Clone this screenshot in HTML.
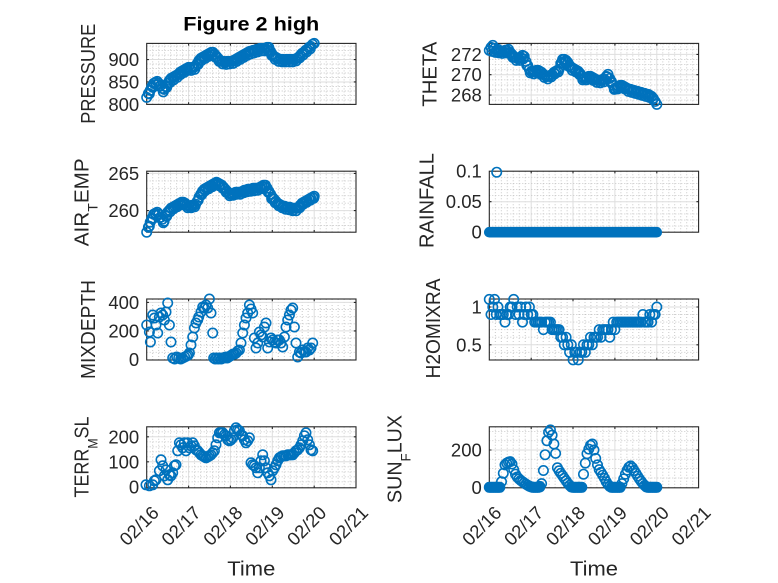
<!DOCTYPE html>
<html><head><meta charset="utf-8">
<style>
body{margin:0;background:#fff}
svg{display:block}
svg text{font-family:"Liberation Sans",sans-serif;fill:#262626}
.t{font-size:18.5px;text-anchor:end}
.xt{font-size:18.5px;text-anchor:end}
.yl{font-size:20.5px;text-anchor:middle}
.g{stroke:#dedede;stroke-width:1;fill:none}
.m{stroke:#c4c4c4;stroke-width:0.9;stroke-dasharray:1 2;fill:none}
.b{fill:none;stroke:#262626;stroke-width:1.1}
.s{fill:none;stroke:none;marker-start:url(#o);marker-mid:url(#o);marker-end:url(#o)}
.z{stroke:#0072BD;stroke-width:10.6;stroke-linecap:round;fill:none}
</style></head>
<body>
<svg width="778" height="583" viewBox="0 0 778 583" xmlns="http://www.w3.org/2000/svg">
<defs>
<marker id="o" markerUnits="userSpaceOnUse" markerWidth="14" markerHeight="14" viewBox="-7 -7 14 14" refX="0" refY="0" overflow="visible"><circle r="4.7" fill="none" stroke="#0072BD" stroke-width="1.6"/></marker>
<path id="vgL" d="M188.6 0v61M230.4 0v61M272.3 0v61M314.2 0v61"/>
<path id="vgR" d="M531.2 0v61M573 0v61M614.9 0v61M656.8 0v61"/>
<path id="vmL" d="M152.7 0v61M158.7 0v61M164.6 0v61M170.6 0v61M176.6 0v61M182.6 0v61M194.6 0v61M200.6 0v61M206.5 0v61M212.5 0v61M218.5 0v61M224.5 0v61M236.4 0v61M242.4 0v61M248.3 0v61M254.3 0v61M260.3 0v61M266.3 0v61M278.3 0v61M284.3 0v61M290.2 0v61M296.2 0v61M302.2 0v61M308.1 0v61M320.2 0v61M326.2 0v61M332.1 0v61M338.1 0v61M344.1 0v61M350.1 0v61"/>
<path id="vmR" d="M495.3 0v61M501.3 0v61M507.2 0v61M513.2 0v61M519.2 0v61M525.2 0v61M537.2 0v61M543.2 0v61M549.1 0v61M555.1 0v61M561.1 0v61M567.1 0v61M579 0v61M585 0v61M590.9 0v61M596.9 0v61M602.9 0v61M608.9 0v61M620.9 0v61M626.9 0v61M632.8 0v61M638.8 0v61M644.8 0v61M650.7 0v61M662.8 0v61M668.8 0v61M674.7 0v61M680.7 0v61M686.7 0v61M692.7 0v61"/>
<path id="xtL" d="M188.6 0v2.2M230.4 0v2.2M272.3 0v2.2M314.2 0v2.2M188.6 61v-2.2M230.4 61v-2.2M272.3 61v-2.2M314.2 61v-2.2"/>
<path id="xtR" d="M531.2 0v2.2M573 0v2.2M614.9 0v2.2M656.8 0v2.2M531.2 61v-2.2M573 61v-2.2M614.9 61v-2.2M656.8 61v-2.2"/>
</defs>

<g class="m">
<use href="#vmL" y="43.4"/><use href="#vmL" y="171.2"/><use href="#vmL" y="299"/><use href="#vmL" y="426.8"/>
<use href="#vmR" y="43.4"/><use href="#vmR" y="171.2"/><use href="#vmR" y="299"/><use href="#vmR" y="426.8"/>
</g>
<g class="g">
<use href="#vgL" y="43.4"/><use href="#vgL" y="171.2"/><use href="#vgL" y="299"/><use href="#vgL" y="426.8"/>
<use href="#vgR" y="43.4"/><use href="#vgR" y="171.2"/><use href="#vgR" y="299"/><use href="#vgR" y="426.8"/>
</g>

<path class="m" d="M146.7 46.1H356M146.7 50.6H356M146.7 55.1H356M146.7 64H356M146.7 68.5H356M146.7 73H356M146.7 77.5H356M146.7 86.5H356M146.7 91H356M146.7 95.4H356M146.7 99.9H356
M489.3 44.2H698.6M489.3 49.3H698.6M489.3 59.5H698.6M489.3 64.6H698.6M489.3 69.7H698.6M489.3 79.8H698.6M489.3 84.9H698.6M489.3 90H698.6M489.3 100.1H698.6
M146.7 180.9H356M146.7 188.3H356M146.7 195.7H356M146.7 203.2H356M146.7 218H356M146.7 225.5H356
M489.3 177.3H698.6M489.3 183.4H698.6M489.3 189.5H698.6M489.3 195.6H698.6M489.3 207.8H698.6M489.3 213.9H698.6M489.3 220H698.6M489.3 226.1H698.6
M146.7 309.5H356M146.7 316.7H356M146.7 323.8H356M146.7 338H356M146.7 345.2H356M146.7 352.3H356
M489.3 314.5H698.6M489.3 322.1H698.6M489.3 329.7H698.6M489.3 337.2H698.6M489.3 352.3H698.6
M146.7 431.8H356M146.7 441.8H356M146.7 446.8H356M146.7 451.8H356M146.7 456.8H356M146.7 466.8H356M146.7 471.8H356M146.7 476.8H356M146.7 481.8H356
M489.3 431.4H698.6M489.3 440.7H698.6M489.3 459.3H698.6M489.3 468.6H698.6M489.3 478H698.6"/>
<path class="g" d="M146.7 59.55H356M146.7 81.97H356
M489.3 54.4H698.6M489.3 74.7H698.6M489.3 95.05H698.6
M146.7 173.4H356M146.7 210.6H356
M489.3 201.7H698.6
M146.7 302.4H356M146.7 330.9H356
M489.3 307H698.6M489.3 344.8H698.6
M146.7 436.8H356M146.7 461.8H356
M489.3 450H698.6"/>

<g class="b">
<rect x="146.7" y="43.4" width="209.3" height="61"/><rect x="489.3" y="43.4" width="209.3" height="61"/>
<rect x="146.7" y="171.2" width="209.3" height="61"/><rect x="489.3" y="171.2" width="209.3" height="61"/>
<rect x="146.7" y="299" width="209.3" height="61"/><rect x="489.3" y="299" width="209.3" height="61"/>
<rect x="146.7" y="426.8" width="209.3" height="61"/><rect x="489.3" y="426.8" width="209.3" height="61"/>
<use href="#xtL" y="43.4"/><use href="#xtL" y="171.2"/><use href="#xtL" y="299"/><use href="#xtL" y="426.8"/>
<use href="#xtR" y="43.4"/><use href="#xtR" y="171.2"/><use href="#xtR" y="299"/><use href="#xtR" y="426.8"/>
<path d="M146.7 59.55h2.2M146.7 81.97h2.2M356 59.55h-2.2M356 81.97h-2.2
M489.3 54.4h2.2M489.3 74.7h2.2M489.3 95.05h2.2M698.6 54.4h-2.2M698.6 74.7h-2.2M698.6 95.05h-2.2
M146.7 173.4h2.2M146.7 210.6h2.2M356 173.4h-2.2M356 210.6h-2.2
M489.3 201.7h2.2M698.6 201.7h-2.2
M146.7 302.4h2.2M146.7 330.9h2.2M356 302.4h-2.2M356 330.9h-2.2
M489.3 307h2.2M489.3 344.8h2.2M698.6 307h-2.2M698.6 344.8h-2.2
M146.7 436.8h2.2M146.7 461.8h2.2M356 436.8h-2.2M356 461.8h-2.2
M489.3 450h2.2M698.6 450h-2.2"/>
</g>

<g class="t">
<text x="139.2" y="66.05">900</text><text x="139.2" y="88.5">850</text><text x="139.2" y="110.9">800</text>
<text x="481.8" y="60.9">272</text><text x="481.8" y="81.2">270</text><text x="481.8" y="101.55">268</text>
<text x="139.2" y="179.9">265</text><text x="139.2" y="217.1">260</text>
<text x="481.8" y="177.7">0.1</text><text x="481.8" y="208.2">0.05</text><text x="481.8" y="238.7">0</text>
<text x="139.2" y="308.9">400</text><text x="139.2" y="337.4">200</text><text x="139.2" y="365.9">0</text>
<text x="481.8" y="313.5">1</text><text x="481.8" y="351.3">0.5</text>
<text x="139.2" y="443.3">200</text><text x="139.2" y="468.3">100</text><text x="139.2" y="493.3">0</text>
<text x="481.8" y="456.5">200</text><text x="481.8" y="493.8">0</text>
</g>

<g class="xt">
<text transform="translate(160,514) rotate(-45)">02/16</text>
<text transform="translate(201.9,514) rotate(-45)">02/17</text>
<text transform="translate(243.7,514) rotate(-45)">02/18</text>
<text transform="translate(285.6,514) rotate(-45)">02/19</text>
<text transform="translate(327.5,514) rotate(-45)">02/20</text>
<text transform="translate(369.3,514) rotate(-45)">02/21</text>
<text transform="translate(502.6,514) rotate(-45)">02/16</text>
<text transform="translate(544.5,514) rotate(-45)">02/17</text>
<text transform="translate(586.3,514) rotate(-45)">02/18</text>
<text transform="translate(628.2,514) rotate(-45)">02/19</text>
<text transform="translate(670.1,514) rotate(-45)">02/20</text>
<text transform="translate(711.9,514) rotate(-45)">02/21</text>
</g>

<text class="yl" transform="translate(95,73.8) rotate(-90)" textLength="100" lengthAdjust="spacingAndGlyphs">PRESSURE</text>
<text class="yl" transform="translate(436.7,74.2) rotate(-90)" textLength="65" lengthAdjust="spacingAndGlyphs">THETA</text>
<text class="yl" transform="translate(88.3,202.3) rotate(-90)" textLength="88" lengthAdjust="spacingAndGlyphs">AIR<tspan dy="9" font-size="14">T</tspan><tspan dy="-9">EMP</tspan></text>
<text class="yl" transform="translate(433.3,200.5) rotate(-90)" textLength="95" lengthAdjust="spacingAndGlyphs">RAINFALL</text>
<text class="yl" transform="translate(95,329.5) rotate(-90)" textLength="99" lengthAdjust="spacingAndGlyphs">MIXDEPTH</text>
<text class="yl" transform="translate(440,328.5) rotate(-90)" textLength="100" lengthAdjust="spacingAndGlyphs">H2OMIXRA</text>
<text class="yl" transform="translate(88.3,457) rotate(-90)" textLength="81" lengthAdjust="spacingAndGlyphs">TERR<tspan dy="9" font-size="14">M</tspan><tspan dy="-9">SL</tspan></text>
<text class="yl" transform="translate(401.7,459) rotate(-90)" textLength="88" lengthAdjust="spacingAndGlyphs">SUN<tspan dy="9" font-size="14">F</tspan><tspan dy="-9">LUX</tspan></text>
<text class="yl" x="251.3" y="575.5" textLength="48" lengthAdjust="spacingAndGlyphs">Time</text>
<text class="yl" x="594" y="575.5" textLength="48" lengthAdjust="spacingAndGlyphs">Time</text>
<text x="251.3" y="30.7" text-anchor="middle" font-weight="bold" font-size="19" textLength="136" lengthAdjust="spacingAndGlyphs" style="fill:#000">Figure 2 high</text>

<!-- PRESSURE -->
<g transform="translate(146.7,43.4)">
<polyline class="s" points="0,54 1.7,50 3.5,47 5.2,43 7,40 8.7,39 10.5,38 12.2,40 14,42 15.7,45 17.4,46 19.2,43 20.9,40 22.7,37 24.4,35 26.2,34 27.9,33 29.7,32 31.4,31 33.2,29 34.9,28 36.6,27 38.4,26 40.1,25 41.9,24 43.6,25 45.4,24 47.1,24 48.9,23 50.6,20 52.3,17 54.1,15 55.8,14 57.6,13 59.3,12 61.1,11 62.8,10 64.6,9 66.3,9 68.1,11 69.8,13 71.5,15 73.3,17 75,18 76.8,18 78.5,19 80.3,18 82,18 83.8,18 85.5,18 87.2,17 89,16 90.7,15 92.5,14 94.2,13 96,12 97.7,11 99.5,10 101.2,9 103,8 104.7,8 106.4,7 108.2,7 109.9,6 111.7,6 113.4,5 115.2,5 116.9,5 118.7,5 120.4,4 122.1,4 123.9,8 125.6,11 127.4,13 129.1,14 130.9,15 132.6,16 134.4,16 136.1,16 137.9,17 139.6,16 141.3,16 143.1,16 144.8,16 146.6,16 148.3,16 150.1,15 151.8,14 153.6,12 155.3,10 157,9 158.8,7 160.5,6 162.3,4 164,3 165.8,1 167.5,0"/>
<polyline class="s" points="2.6,50.5 6.1,44 9.6,41.5 13.1,43 16.6,48.5 20,44 23.5,39 27,36.5 30.5,34 34,31 37.5,29 41,27 44.5,27 48,26 51.5,21 55,17 58.5,15 62,13 65.5,12 69,14 72.5,18 76,20.5 79.5,21 83,20.5 86.5,20 90,18 93.5,16 97,14 100.5,12 104,10.5 107.5,9.5 111,8.5 114.5,7.5 118,7.5 121.5,7 125,12 128.5,16 132,18 135.5,18.5 139,18.5 142.5,18.5 146,18.5 149.5,17.5 153,14.5 156.5,11.5 160,8.5 163.5,5.5"/>
</g>
<!-- THETA -->
<g transform="translate(489.3,43.4)">
<polyline class="s" points="0,7 1.7,4 3.5,2 5.2,5 7,7 8.7,6 10.5,8 12.2,8 14,8 15.7,7 17.4,7 19.2,6 20.9,9 22.7,11 24.4,13 26.2,14 27.9,15 29.7,15 31.4,14 33.2,12 34.9,13 36.6,18 38.4,22 40.1,26 41.9,28 43.6,28 45.4,28 47.1,27 48.9,27 50.6,28 52.3,29 54.1,31 55.8,32 57.6,33 59.3,33 61.1,32 62.8,31 64.6,29 66.3,28 68.1,27 69.8,26 71.5,20 73.3,16 75,16 76.8,17 78.5,19 80.3,22 82,24 83.8,25 85.5,26 87.2,27 89,28 90.7,30 92.5,33 94.2,35 96,34 97.7,34 99.5,33 101.2,33 103,34 104.7,35 106.4,36 108.2,37 109.9,37 111.7,37 113.4,36 115.2,36 116.9,33 118.7,31 120.4,35 122.1,38 123.9,42 125.6,45 127.4,44 129.1,43 130.9,42 132.6,42 134.4,43 136.1,44 137.9,45 139.6,46 141.3,46 143.1,47 144.8,47 146.6,48 148.3,48 150.1,49 151.8,49 153.6,50 155.3,50 157,51 158.8,51 160.5,52 162.3,53 164,55 165.8,58 167.5,61"/>
<polyline class="s" points="2.6,8 6.1,9 9.6,9.5 13.1,10 16.6,9.5 20,10 23.5,14 27,17 30.5,17 34,15.5 37.5,22 41,29.5 44.5,30.5 48,29.5 51.5,31 55,34 58.5,35.5 62,33.5 65.5,30.5 69,28.5 72.5,19 76,18.5 79.5,23 83,27 86.5,28.5 90,31 93.5,36.5 97,36.5 100.5,35.5 104,37 107.5,39 111,39.5 114.5,38.5 118,33.5 121.5,39 125,46 128.5,45.5 132,44.5 135.5,45.5 139,48 142.5,49 146,50 149.5,51 153,52 156.5,53 160,54 163.5,56"/>
</g>
<!-- AIR_TEMP -->
<g transform="translate(146.7,171.2)">
<polyline class="s" points="0,61 1.7,56 3.5,51 5.2,47 7,43 8.7,42 10.5,41 12.2,43 14,46 15.7,48 17.4,50 19.2,45 20.9,41 22.7,39 24.4,37 26.2,36 27.9,35 29.7,34 31.4,33 33.2,32 34.9,31 36.6,31 38.4,32 40.1,34 41.9,35 43.6,35 45.4,34 47.1,34 48.9,33 50.6,30 52.3,26 54.1,23 55.8,20 57.6,18 59.3,17 61.1,16 62.8,15 64.6,14 66.3,13 68.1,12 69.8,11 71.5,12 73.3,13 75,14 76.8,16 78.5,18 80.3,20 82,22 83.8,23 85.5,23 87.2,22 89,21 90.7,21 92.5,21 94.2,21 96,20 97.7,19 99.5,19 101.2,18 103,18 104.7,18 106.4,17 108.2,17 109.9,17 111.7,17 113.4,16 115.2,15 116.9,14 118.7,14 120.4,17 122.1,20 123.9,23 125.6,26 127.4,28 129.1,30 130.9,32 132.6,33 134.4,34 136.1,35 137.9,35 139.6,36 141.3,36 143.1,36 144.8,37 146.6,37 148.3,37 150.1,37 151.8,36 153.6,34 155.3,32 157,31 158.8,30 160.5,29 162.3,28 164,27 165.8,26 167.5,25"/>
<polyline class="s" points="2.6,55 6.1,47.5 9.6,44 13.1,46.5 16.6,51.5 20,45 23.5,40.5 27,37.5 30.5,35.5 34,33.5 37.5,33.5 41,36.5 44.5,36.5 48,35.5 51.5,29 55,23.5 58.5,19.5 62,17.5 65.5,15.5 69,13.5 72.5,14.5 76,17 79.5,21 83,24.5 86.5,24 90,23 93.5,23 97,21.5 100.5,20.5 104,20 107.5,19.5 111,19 114.5,17.5 118,16 121.5,21 125,27.5 128.5,31.5 132,34.5 135.5,36.5 139,38 142.5,38.5 146,39.5 149.5,39.5 153,36.5 156.5,33 160,31 163.5,29 167,27"/>
</g>
<!-- RAINFALL -->
<g transform="translate(489.3,171.2)">
<path class="z" d="M0 61H167.5"/>
<polyline class="s" points="7.4,1"/>
</g>
<!-- MIXDEPTH -->
<g transform="translate(146.7,299)">
<polyline class="s" points="0,26 2.7,33 3.7,43 6,16 7.7,19 9.3,26 11,34 12.7,18 14.3,14 16,16 17.7,21 19.3,13 21,4 22.7,26 24.3,43 26,59 28,60 30,58 32,59 34,60 36,59 38,58 40,57 41.5,56 42.7,54 44.3,46 46,38 47.7,29 49.3,24 51,21 52,18 54.3,13 56,8 57.7,9 59.3,6 61,9 62.7,0 64.3,14 66,34 67,59 68.5,60 70,59 71.5,60 73,59 74.5,60 76,59 77.5,59 79,58 80.5,59 82,58 83.5,57 85,56 86.5,55 88,55 89.5,54 91,52 92.7,51 94.3,44 96,34 97.7,26 99.3,19 101,14 102.7,6 104.3,10 106,14 107.7,39 109.3,49 111,44 112.7,33 114.3,36 116,38 117.7,28 119.3,24 121,49 122.7,43 124.3,39 126,41 127.7,43 129.3,44 131,41 132.7,41 134.3,44 136,48 137.7,38 139.3,28 141,21 142.7,16 144.3,11 146,9 147.7,28 149.3,44 151,58 152.7,53 154.3,54 156,51 157.7,53 159.3,53 161,49 162.7,51 164.3,49 166,44"/>
</g>
<!-- H2OMIXRA -->
<g transform="translate(489.3,299)">
<polyline class="s" points="0,0.4 1.7,15.5 3.5,8 5.2,0.4 7,15.5 8.7,8 10.5,15.5 12.2,15.5 14,15.5 15.7,23.1 17.4,15.5 19.2,15.5 20.9,8 22.7,8 24.4,0.4 26.2,15.5 27.9,8 29.7,15.5 31.4,8 33.2,23.1 34.9,15.5 36.6,8 38.4,15.5 40.1,8 41.9,15.5 43.6,15.5 45.4,23.1 47.1,23.1 48.9,23.1 50.6,23.1 52.3,23.1 54.1,30.6 55.8,23.1 57.6,23.1 59.3,23.1 61.1,23.1 62.8,30.6 64.6,30.6 66.3,30.6 68.1,30.6 69.8,30.6 71.5,38.2 73.3,38.2 75,45.8 76.8,38.2 78.5,45.8 80.3,53.3 82,45.8 83.8,60.9 85.5,53.3 87.2,53.3 89,60.9 90.7,53.3 92.5,53.3 94.2,45.8 96,53.3 97.7,45.8 99.5,45.8 101.2,38.2 103,45.8 104.7,38.2 106.4,38.2 108.2,38.2 109.9,30.6 111.7,38.2 113.4,30.6 115.2,30.6 116.9,30.6 118.7,30.6 120.4,38.2 122.1,30.6 123.9,23.1 125.6,30.6 127.4,23.1 129.1,23.1 130.9,23.1 132.6,23.1 134.4,23.1 136.1,23.1 137.9,23.1 139.6,23.1 141.3,23.1 143.1,23.1 144.8,23.1 146.6,23.1 148.3,23.1 150.1,23.1 151.8,23.1 153.6,15.5 155.3,23.1 157,23.1 158.8,23.1 160.5,15.5 162.3,23.1 164,15.5 165.8,15.5 167.5,8"/>
</g>
<!-- TERR_MSL -->
<g transform="translate(146.7,426.8)">
<polyline class="s" points="-0.7,58 2.7,59 6,58 7.7,54 9.3,53 12.7,44 14.3,33 16,39 17.7,49 19.3,43 21,53 22.7,48 24.3,49 26,46 27.7,39 29.3,38 31,24 32.7,16 34.3,18 36,21 37.7,16 39.3,24 41,16 42.7,21 44.3,19 46,16 47.7,19 49.3,23 51,24 52.7,26 54.3,28 56,29 57.7,30 59.3,31 61,30 62.7,29 64.3,28 66,26 67.7,24 69.3,18 71,11 72.7,6 74.3,6 76,6 77.7,8 79.3,9 81,13 82.7,14 84.3,13 86,11 87.7,4 89.3,1 91,3 92.7,4 94.3,8 96,9 97.7,13 99.3,16 101,14 102.7,11 104.3,36 106,38 107.7,39 109.3,41 111,46 112.7,41 114.3,34 116,28 117.7,34 119.3,41 121,46 122.7,49 124.3,53 126,44 127.7,41 129.3,38 131,34 132.7,31 134.3,30 136,29 137.7,29 139.3,29 141,28 142.7,28 144.3,28 146,28 147.7,26 149.3,24 151,23 152.7,21 154.3,18 156,14 157.7,9 159.3,6 161,13 162.7,18 164.3,23 166,24"/>
</g>
<!-- SUN_FLUX -->
<g transform="translate(489.3,426.8)">
<path class="z" d="M0 60.5H10.5M41.9 60.5H50.6M82 60.5H92.5M122.1 60.5H130.9M157 60.5H167.5"/>
<polyline class="s" points="0,60.5 1.7,60.5 3.5,60.5 5.2,60.5 7,60.5 8.7,60.5 10.5,60.5 12.2,54.9 14,46.5 15.7,38.1 17.4,36.3 19.2,35.3 20.9,34.8 22.7,37.2 24.4,42.8 26.2,47.4 27.9,50.2 29.7,52.1 31.4,53.6 33.2,54.9 34.9,56.2 36.6,57.3 38.4,58.4 40.1,59.4 41.9,59.9 43.6,60.5 45.4,60.5 47.1,60.5 48.9,60.5 50.6,59.6 52.3,56.8 54.1,43.7 55.8,27.9 57.6,13.9 59.3,5.5 61.1,3.1 62.8,8.4 64.6,17.2 66.3,26.6 68.1,41 69.8,44 71.5,46.5 73.3,49 75,51.5 76.8,54 78.5,56.5 80.3,58.5 82,60 83.8,60.5 85.5,60.5 87.2,60.5 89,60.5 90.7,60.5 92.5,60.5 94.2,47.4 96,36.3 97.7,26.9 99.5,22.3 101.2,18.5 103,17.2 104.7,23.2 106.4,31.6 108.2,38.1 109.9,42.8 111.7,45.6 113.4,48.4 115.2,51.5 116.9,54.9 118.7,57.7 120.4,59.6 122.1,60.5 123.9,60.5 125.6,60.5 127.4,60.5 129.1,60.5 130.9,60.5 132.6,56.8 134.4,52.1 136.1,47.4 137.9,43.3 139.6,40.4 141.3,39.1 143.1,40.9 144.8,43.7 146.6,46.5 148.3,49.3 150.1,52.1 151.8,54.5 153.6,56.8 155.3,58.6 157,59.8 158.8,60.5 160.5,60.5 162.3,60.5 164,60.5 165.8,60.5 167.5,60.5"/>
</g>
</svg>
</body></html>
